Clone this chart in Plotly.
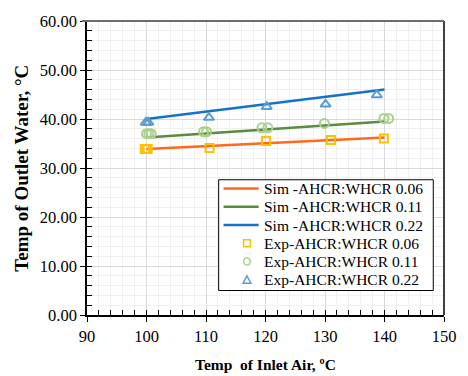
import plotly.graph_objects as go

# ---- data ----
sim_x = [100, 140]
sim_006 = [33.9, 36.2]
sim_011 = [36.2, 39.5]
sim_022 = [40.0, 46.0]

exp_006_x = [99.7, 99.95, 100.2, 110.6, 120.1, 131.0, 139.9]
exp_006_y = [33.9, 33.9, 33.9, 34.1, 35.5, 35.7, 36.0]
exp_011_x = [100.0, 100.4, 100.8, 109.6, 110.1, 119.4, 120.4, 129.9, 139.9, 140.7]
exp_011_y = [37.0, 37.0, 37.0, 37.4, 37.4, 38.2, 38.2, 39.1, 40.1, 40.1]
exp_022_x = [99.9, 100.3, 110.5, 120.2, 130.1, 138.7]
exp_022_y = [39.3, 39.3, 40.3, 42.5, 43.0, 44.9]

x_ticks = [90, 100, 110, 120, 130, 140, 150]
y_ticks = [0, 10, 20, 30, 40, 50, 60]

names = ["Sim -AHCR:WHCR 0.06", "Sim -AHCR:WHCR 0.11", "Sim -AHCR:WHCR 0.22",
         "Exp-AHCR:WHCR 0.06", "Exp-AHCR:WHCR 0.11", "Exp-AHCR:WHCR 0.22"]
line_colors = ["#FF6A1A", "#5B8B3C", "#1473C6"]
marker_colors = ["#FFC000", "#A9D18E", "#5B9BD5"]

FONT = "Liberation Serif, Times New Roman, serif"

# plot area geometry in pixels (for converting legend layout to paper coords)
L, R, T, B = 87, 453, 15, 315
def px(xp):
    return (xp - L) / (R - L)
def py(yp):
    return (B - yp) / (B - T)

fig = go.Figure()
for i, ys in enumerate([sim_006, sim_011, sim_022]):
    fig.add_trace(go.Scatter(x=sim_x, y=ys, mode="lines", name=names[i],
                             line=dict(color=line_colors[i], width=2.5)))
fig.add_trace(go.Scatter(x=exp_006_x, y=exp_006_y, mode="markers", name=names[3],
                         marker=dict(symbol="square-open", size=8, color=marker_colors[0], line=dict(width=2))))
fig.add_trace(go.Scatter(x=exp_011_x, y=exp_011_y, mode="markers", name=names[4],
                         marker=dict(symbol="circle-open", size=9, color=marker_colors[1], line=dict(width=2))))
fig.add_trace(go.Scatter(x=exp_022_x, y=exp_022_y, mode="markers", name=names[5],
                         marker=dict(symbol="triangle-up-open", size=9, color=marker_colors[2], line=dict(width=2))))
# invisible trace for inner tick axes
fig.add_trace(go.Scatter(x=[90], y=[0], xaxis="x2", yaxis="y2", mode="markers",
                         marker=dict(opacity=0), showlegend=False, hoverinfo="skip"))

# ---- custom legend (box, samples, labels) ----
shapes = [
    dict(type="line", xref="paper", yref="paper", x0=1, x1=1, y0=0, y1=1,
         line=dict(color="black", width=1.5)),
    dict(type="line", xref="paper", yref="paper", x0=-0.014, x1=1, y0=1, y1=1,
         line=dict(color="#6E6E6E", width=2)),
    dict(type="rect", xref="paper", yref="paper", x0=px(222), x1=px(442), y0=py(290), y1=py(177),
         line=dict(color="black", width=1), fillcolor="white", layer="above"),
]
annotations = []
row_y = [186, 204.6, 223.2, 241.8, 260.4, 279]
for i, name in enumerate(names):
    yc = row_y[i]
    if i < 3:
        shapes.append(dict(type="line", xref="paper", yref="paper", x0=px(227), x1=px(263),
                           y0=py(yc), y1=py(yc), line=dict(color=line_colors[i], width=2.5),
                           layer="above"))
    else:
        c = marker_colors[i - 3]
        cx = 251
        if i == 3:
            shapes.append(dict(type="rect", xref="paper", yref="paper", x0=px(cx - 3.5), x1=px(cx + 3.5),
                               y0=py(yc + 3.5), y1=py(yc - 3.5), line=dict(color=c, width=1.5),
                               layer="above"))
        elif i == 4:
            shapes.append(dict(type="circle", xref="paper", yref="paper", x0=px(cx - 3.5), x1=px(cx + 3.5),
                               y0=py(yc + 3.5), y1=py(yc - 3.5), line=dict(color=c, width=1.5),
                               layer="above"))
        else:
            path = "M {:.4f},{:.4f} L {:.4f},{:.4f} L {:.4f},{:.4f} Z".format(
                px(cx - 4), py(yc + 3.5), px(cx + 4), py(yc + 3.5), px(cx), py(yc - 4))
            shapes.append(dict(type="path", xref="paper", yref="paper", path=path,
                               line=dict(color=c, width=1.5), layer="above"))
    annotations.append(dict(text=name, xref="paper", yref="paper", x=px(266), y=py(yc),
                            xanchor="left", yanchor="middle", showarrow=False,
                            font=dict(family=FONT, size=15.5, color="black")))

annotations += [
    dict(text="<b>Temp  of Inlet Air, ºC</b>", xref="paper", yref="paper",
         x=0.5, y=-0.17, xanchor="center", yanchor="middle", showarrow=False,
         font=dict(family=FONT, size=15.5, color="black")),
    dict(text="<b>Temp of Outlet Water, °C</b>", xref="paper", yref="paper",
         x=px(19), y=0.5, xanchor="center", yanchor="middle", showarrow=False,
         textangle=-90, font=dict(family=FONT, size=19, color="black")),
]

fig.update_layout(
    width=468, height=376,
    margin=dict(l=L, r=468 - R, t=T, b=376 - B),
    paper_bgcolor="white", plot_bgcolor="white",
    font=dict(family=FONT, size=16.5, color="black"),
    showlegend=False,
    xaxis=dict(range=[90, 150], tickvals=x_ticks, ticktext=[str(v) for v in x_ticks],
               showgrid=True, gridcolor="#D9D9D9", gridwidth=1,
               minor=dict(dtick=2, showgrid=True, gridcolor="#F0F0F0", gridwidth=1),
               showline=True, linecolor="black", linewidth=1.5,
               ticks="outside", ticklen=5, tickcolor="black", tickwidth=1,
               zeroline=False, fixedrange=True),
    yaxis=dict(range=[0, 60], tickvals=y_ticks, ticktext=[f"{v:.2f}" for v in y_ticks],
               showgrid=True, gridcolor="#D9D9D9", gridwidth=1,
               minor=dict(dtick=2, showgrid=True, gridcolor="#F0F0F0", gridwidth=1),
               showline=True, linecolor="black", linewidth=1.5,
               ticks="outside", ticklen=5, tickcolor="black", tickwidth=1,
               zeroline=False, fixedrange=True),
    xaxis2=dict(range=[90, 150], overlaying="x", anchor="y2", side="bottom",
                dtick=2, tick0=90, ticks="inside", ticklen=5, tickcolor="black",
                showticklabels=False, showgrid=False, zeroline=False, showline=False),
    yaxis2=dict(range=[0, 60], overlaying="y", anchor="x2", side="left",
                dtick=2, tick0=0, ticks="inside", ticklen=5, tickcolor="black",
                showticklabels=False, showgrid=False, zeroline=False, showline=False),
    shapes=shapes,
    annotations=annotations,
)

fig.write_html("out.html")
